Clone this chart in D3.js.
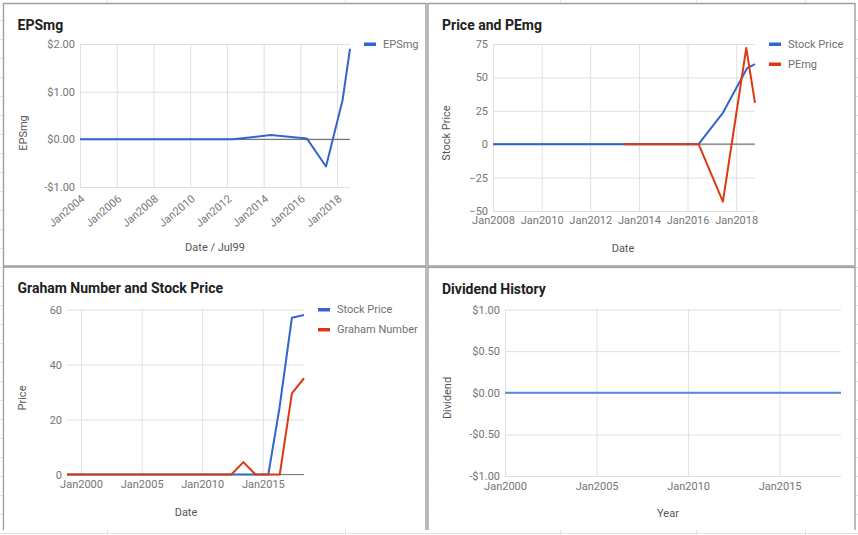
<!DOCTYPE html>
<meta charset='utf-8'>
<title>Charts</title>
<style>
  body {
    margin: 0;
    background: #fff;
    font-family: Roboto, 'Noto Sans', Arial, sans-serif;
  }
  svg { display: block; }
  .cells line { stroke: #e2e2e2; stroke-width: 1; }
  .frame { fill: #fff; stroke: #9e9e9e; stroke-width: 1.4; }
  .axis .domain { display: none; }
  .axis line { stroke: #e0e0e0; stroke-width: 1; }
  .axis text { fill: #757575; font-size: 11px; font-family: Roboto, sans-serif; }
  .baseline { stroke: #777; stroke-width: 1.2; }
  .series { fill: none; stroke-width: 2; stroke-linejoin: round; }
  .title { font-size: 14px; font-weight: bold; fill: #212121; }
  .atitle { font-size: 11px; fill: #555; }
  .legend text { font-size: 11px; fill: #707070; }
</style>
<body>
<svg width='858' height='535'></svg>

<script src='https://cdnjs.cloudflare.com/ajax/libs/d3/7.8.5/d3.min.js'></script>
<script>

  var parse = d3.timeParse('%Y-%m-%d')

  // EPSmg
  var epsDates = ['2004-01-01', '2006-06-01', '2008-06-01', '2010-06-01', '2012-05-01',
    '2014-05-26', '2016-05-08', '2017-05-26', '2018-04-20', '2018-09-15']
  var epsValues = [0, 0, 0, 0, 0, 0.09, 0.02, -0.57, 0.82, 1.9]
  var epsTicks = [-1, 0, 1, 2]

  // Price and PEmg
  var priceDates = ['2008-01-01', '2010-06-01', '2012-06-01', '2013-05-26', '2016-06-15',
    '2017-06-15', '2018-06-15', '2018-10-10']
  var priceValues = [0, 0, 0, 0, 0, 23.5, 57, 60]
  var peDates = ['2013-05-26', '2016-06-15', '2017-06-15', '2018-06-01', '2018-10-10']
  var peValues = [0, 0, -43, 72, 31]
  var peTicks = [-50, -25, 0, 25, 50, 75]

  // Graham Number and Stock Price
  var gPriceDates = ['1998-11-05', '2003-05-26', '2008-05-26', '2012-05-26', '2014-05-26',
    '2015-06-15', '2016-05-15', '2017-05-26', '2018-05-26']
  var gPriceValues = [0, 0, 0, 0, 0, 0, 24, 57, 58]
  var grahamDates = ['1998-11-05', '2003-05-26', '2008-05-26', '2012-05-26', '2013-05-26',
    '2014-05-26', '2016-05-26', '2017-05-26', '2018-05-26']
  var grahamValues = [0, 0, 0, 0, 4.5, 0, 0, 29.5, 35]
  var grahamTicks = [0, 20, 40, 60]

  // Dividend History
  var divDates = ['2000-01-01', '2004-05-10', '2008-05-10', '2012-05-10', '2016-05-10', '2018-05-10']
  var divValues = [0, 0, 0, 0, 0, 0]
  var divTicks = [-1, -0.5, 0, 0.5, 1]

  var blue = '#3366cc', red = '#dc3912'

  function zip(dates, values) {
    return dates.map(function(d, i) { return { date: parse(d), value: values[i] } })
  }

  function dollars(v) {
    return (v < 0 ? '-$' : '$') + Math.abs(v).toFixed(2)
  }

  var svg = d3.select('svg')

  /* ------- SPREADSHEET CELLS -------*/
  var cells = svg.append('g').attr('class', 'cells')
  cells.selectAll('line.col')
    .data([107, 345, 560, 696, 805])
    .enter().append('line')
    .attr('x1', function(d) { return d + 0.5 }).attr('x2', function(d) { return d + 0.5 })
    .attr('y1', 0).attr('y2', 535)
  cells.selectAll('line.row')
    .data(d3.range(20, 535, 19))
    .enter().append('line')
    .attr('y1', function(d) { return d + 0.5 }).attr('y2', function(d) { return d + 0.5 })
    .attr('x1', 0).attr('x2', 858)

  function panel(p) {
    var g = svg.append('g')

    g.append('path')
      .attr('class', 'frame')
      .attr('d', p.open
        ? 'M' + p.fx0 + ',' + p.fy1 + 'V' + p.fy0 + 'H' + p.fx1 + 'V' + p.fy1
        : 'M' + p.fx0 + ',' + p.fy0 + 'H' + p.fx1 + 'V' + p.fy1 + 'H' + p.fx0 + 'Z')
    if (p.open) {
      g.append('rect').attr('x', p.fx0 + 1).attr('y', p.fy0 + 1)
        .attr('width', p.fx1 - p.fx0 - 2).attr('height', p.fy1 - p.fy0 - 1).attr('fill', '#fff')
    }

    g.append('text').attr('class', 'title')
      .attr('x', p.fx0 + 14).attr('y', p.fy0 + 26)
      .text(p.title)

    var all = []
    p.series.forEach(function(s) { all = all.concat(s.data) })

    var x = d3.scaleTime()
      .domain(d3.extent(all, function(d) { return d.date }))
      .range([p.left, p.right])
    var y = d3.scaleLinear()
      .domain(d3.extent(p.yTicks))
      .range([p.bottom, p.top])

    var yAxis = d3.axisLeft(y)
      .tickValues(p.yTicks)
      .tickSize(-(p.right - p.left))
      .tickPadding(5)
      .tickFormat(p.yFormat)
    g.append('g').attr('class', 'axis')
      .attr('transform', 'translate(' + p.left + ',0)')
      .call(yAxis)

    var xAxis = d3.axisBottom(x)
      .ticks(d3.timeYear.every(p.yearStep))
      .tickSize(-(p.bottom - p.top))
      .tickPadding(p.xPad)
      .tickFormat(d3.timeFormat('%b%Y'))
    var xg = g.append('g').attr('class', 'axis')
      .attr('transform', 'translate(0,' + p.bottom + ')')
      .call(xAxis)

    if (p.rotate) {
      xg.selectAll('text')
        .attr('y', 0).attr('dy', null)
        .attr('transform', 'translate(5,13) rotate(-40)')
        .style('text-anchor', 'end')
    }

    if (p.baseline) {
      g.append('line').attr('class', 'baseline')
        .attr('x1', p.left).attr('x2', p.right)
        .attr('y1', y(0)).attr('y2', y(0))
    }

    var line = d3.line()
      .x(function(d) { return x(d.date) })
      .y(function(d) { return y(d.value) })

    p.series.forEach(function(s) {
      g.append('path')
        .attr('class', 'series')
        .attr('stroke', s.color)
        .attr('stroke-width', s.width || 2)
        .attr('d', line(s.data))
    })

    if (p.legendX) {
      var lg = g.append('g').attr('class', 'legend')
      p.series.forEach(function(s, i) {
        var ly = p.top + i * 20
        lg.append('rect')
          .attr('x', p.legendX).attr('y', ly - 1.5)
          .attr('width', 12).attr('height', 3.5)
          .attr('fill', s.color)
        lg.append('text')
          .attr('x', p.legendX + 19).attr('y', ly).attr('dy', '0.35em')
          .text(s.name)
      })
    }

    g.append('text').attr('class', 'atitle')
      .attr('x', p.xTitle[0]).attr('y', p.xTitle[1])
      .attr('text-anchor', 'middle')
      .text(p.xLabel)
    g.append('text').attr('class', 'atitle')
      .attr('transform', 'translate(' + p.yTitle[0] + ',' + p.yTitle[1] + ') rotate(-90)')
      .attr('text-anchor', 'middle')
      .text(p.yLabel)
  }

  panel({
    title: 'EPSmg', fx0: 3.5, fy0: 3.5, fx1: 426, fy1: 266,
    left: 80, right: 350, top: 44, bottom: 187,
    yTicks: epsTicks, yFormat: dollars, yearStep: 2, xPad: 6, rotate: true, baseline: true,
    series: [{ name: 'EPSmg', color: blue, data: zip(epsDates, epsValues) }],
    legendX: 364,
    xLabel: 'Date / Jul99', xTitle: [215, 251],
    yLabel: 'EPSmg', yTitle: [27, 133]
  })

  panel({
    title: 'Price and PEmg', fx0: 428, fy0: 3.5, fx1: 855, fy1: 266,
    left: 493, right: 755, top: 44, bottom: 211,
    yTicks: peTicks, yFormat: d3.format('d'), yearStep: 2, xPad: 5, baseline: true,
    series: [
      { name: 'Stock Price', color: blue, data: zip(priceDates, priceValues) },
      { name: 'PEmg', color: red, data: zip(peDates, peValues) }
    ],
    legendX: 769,
    xLabel: 'Date', xTitle: [623, 251.5],
    yLabel: 'Stock Price', yTitle: [449.5, 133]
  })

  panel({
    title: 'Graham Number and Stock Price', fx0: 3.5, fy0: 267, fx1: 426, fy1: 530, open: true,
    left: 67, right: 304, top: 309.5, bottom: 474.5,
    yTicks: grahamTicks, yFormat: d3.format('d'), yearStep: 5, xPad: 6, baseline: true,
    series: [
      { name: 'Stock Price', color: blue, data: zip(gPriceDates, gPriceValues) },
      { name: 'Graham Number', color: red, data: zip(grahamDates, grahamValues) }
    ],
    legendX: 318,
    xLabel: 'Date', xTitle: [186, 516],
    yLabel: 'Price', yTitle: [26, 398]
  })

  panel({
    title: 'Dividend History', fx0: 428, fy0: 267.5, fx1: 855, fy1: 530, open: true,
    left: 505, right: 841, top: 309.5, bottom: 476,
    yTicks: divTicks, yFormat: dollars, yearStep: 5, xPad: 6, baseline: false,
    series: [{ name: 'Dividend', color: '#5a86d8', width: 3, data: zip(divDates, divValues) }],
    xLabel: 'Year', xTitle: [668, 517],
    yLabel: 'Dividend', yTitle: [450.5, 398]
  })

</script>
</body>
